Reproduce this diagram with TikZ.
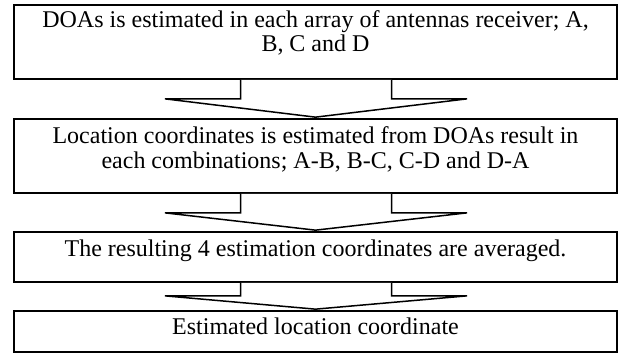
\documentclass[tikz,border=0pt]{standalone}
\usepackage{fontspec}
\setmainfont{Liberation Serif}
\usetikzlibrary{calc}
\begin{document}
\begin{tikzpicture}[x=1pt,y=1pt,
  box/.style={draw=black, line width=1.7pt, minimum width=603pt, inner sep=0pt, fill=white},
  txt/.style={anchor=north, inner sep=0pt, align=center, font=\fontsize{24}{24.5}\selectfont},
  blockarrow/.style={draw=black, line width=1.5pt, line join=miter, fill=white}]
\useasboundingbox (0,0) rectangle (620,-354);
\node[box, minimum height=74pt] (b1) at (315.5,-42) {};
\node[box, minimum height=74pt] (b2) at (315.5,-156) {};
\node[box, minimum height=50pt] (b3) at (315.5,-257) {};
\node[box, minimum height=41pt] (b4) at (315.5,-331.5) {};
\node[txt] (t1) at ([yshift=-6pt]b1.north) {DOAs is estimated in each array of antennas receiver; A,\\B, C and D};
\node[txt] (t2) at ([yshift=-8.5pt]b2.north) {Location coordinates is estimated from DOAs result in\\each combinations; A-B, B-C, C-D and D-A};
\node[txt] (t3) at ([yshift=-8.5pt]b3.north) {The resulting 4 estimation coordinates are averaged.};
\node[txt] (t4) at ([yshift=-7.5pt]b4.north) {Estimated location coordinate};
% block arrows
\coordinate (a1) at ([yshift=-19pt]b1.south);
\coordinate (a2) at ([yshift=-19pt]b2.south);
\coordinate (a3) at ([yshift=-13pt]b3.south);
\draw[blockarrow] ([xshift=-75pt]b1.south) |- ([xshift=-150.5pt]a1) -- ([yshift=1pt]b2.north) -- ([xshift=151.5pt]a1) -| ([xshift=76pt]b1.south);
\draw[blockarrow] ([xshift=-75pt]b2.south) |- ([xshift=-150.5pt]a2) -- ([yshift=1pt]b3.north) -- ([xshift=151.5pt]a2) -| ([xshift=76pt]b2.south);
\draw[blockarrow] ([xshift=-75pt]b3.south) |- ([xshift=-150.5pt]a3) -- ([yshift=1pt]b4.north) -- ([xshift=151.5pt]a3) -| ([xshift=76pt]b3.south);
\end{tikzpicture}
\end{document}
